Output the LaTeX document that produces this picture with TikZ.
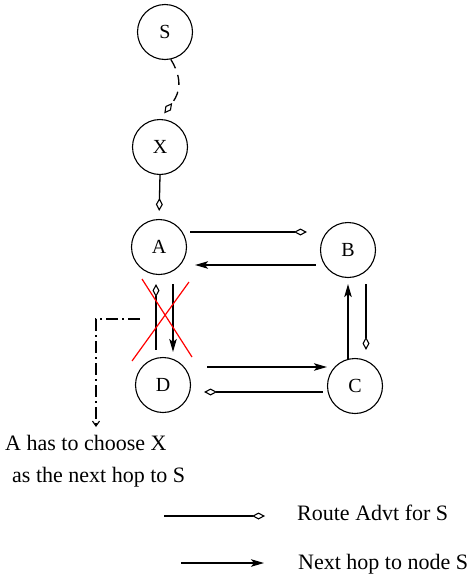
\documentclass[tikz,border=0pt]{standalone}
\usepackage{fontspec}
\setmainfont{Liberation Serif}
\usetikzlibrary{arrows.meta}
\begin{document}
\begin{tikzpicture}[x=1pt,y=-1pt,
  nd/.style={draw,circle,line width=1.1pt,minimum size=55pt,inner sep=0pt,font=\fontsize{20}{24}\selectfont},
  lbl/.style={anchor=base west,inner sep=0pt,font=\fontsize{22}{26}\selectfont},
  adv/.style={line width=1.3pt,-{Diamond[open,length=13pt,width=7pt,line width=1.1pt]}},
  hop/.style={line width=1.3pt,-{Stealth[length=13pt,width=7.5pt,inset=3pt]}},
  dd/.style={line width=1.1pt,dash pattern=on 12pt off 4pt on 2pt off 4pt,-{Straight Barb[length=5pt,width=7pt]}},
  cross/.style={red,line width=1.2pt}]
\useasboundingbox (0,0) rectangle (467,576);
\node[nd] (S) at (165,32) {S};
\node[nd] (X) at (160,147) {X};
\node[nd] (A) at (159,247) {A};
\node[nd] (B) at (348,250) {B};
\node[nd] (D) at (163,385) {D};
\node[nd] (C) at (355,386) {C};
% S -> X dashed advert
\draw[adv,dash pattern=on 10pt off 7pt,shorten >=7pt] (S.-78) .. controls (186,84) and (176,98) .. (X.north);
% X -> A
\draw[adv,shorten >=8pt] (X.south) -- (A.north);
% A -> B advert
\draw[adv,shorten >=13pt] ([xshift=3pt,yshift=15pt]A.east) -- ([yshift=15pt]A.east -| B.west);
% B -> A next hop
\draw[hop,shorten >=8pt] ([xshift=-4pt,yshift=-15pt]B.west) -- ([yshift=-15pt]B.west -| A.east);
% D -> A advert (left)
\draw[adv,shorten >=9pt] ([xshift=-7pt,yshift=7pt]D.north) -- ([xshift=-7pt]D.north |- A.south);
% A -> D next hop (right)
\draw[hop,shorten >=5pt] ([xshift=14pt,yshift=-9pt]A.south) -- ([xshift=14pt]A.south |- D.north);
% D -> C next hop
\draw[hop] ([xshift=16pt,yshift=18pt]D.east) -- ([yshift=18pt]D.east -| C.west);
% C -> D advert
\draw[adv,shorten >=13pt] ([xshift=-4pt,yshift=-6pt]C.west) -- ([yshift=-6pt]C.west -| D.east);
% C -> B next hop
\draw[hop,shorten >=6pt] ([xshift=-7pt,yshift=-1pt]C.north) -- ([xshift=-7pt]C.north |- B.south);
% B -> C advert
\draw[adv,shorten >=8pt] ([xshift=18pt,yshift=-6pt]B.south) -- ([xshift=18pt]B.south |- C.north);
% red cross
\draw[cross] (142,279) -- (192,357);
\draw[cross] (189,282) -- (132,361);
% note
\node[lbl] (n1) at (5,450) {A has to choose X};
\node[lbl] (n2) at (12,482) {as the next hop to S};
\coordinate (xc) at (140,319);
\coordinate (ne) at (96,427);
\draw[dd] (xc) -| (ne);
% legend
\coordinate (la1) at (164,516);
\coordinate (la2) at (265,516);
\coordinate (lb1) at (181,563);
\coordinate (lb2) at (264,563);
\draw[adv] (la1) -- (la2);
\draw[hop] (lb1) -- (lb2);
\node[lbl] (l1) at (297,520) {Route Advt for S};
\node[lbl] (l2) at (298,569) {Next hop to node S};
\end{tikzpicture}
\end{document}
